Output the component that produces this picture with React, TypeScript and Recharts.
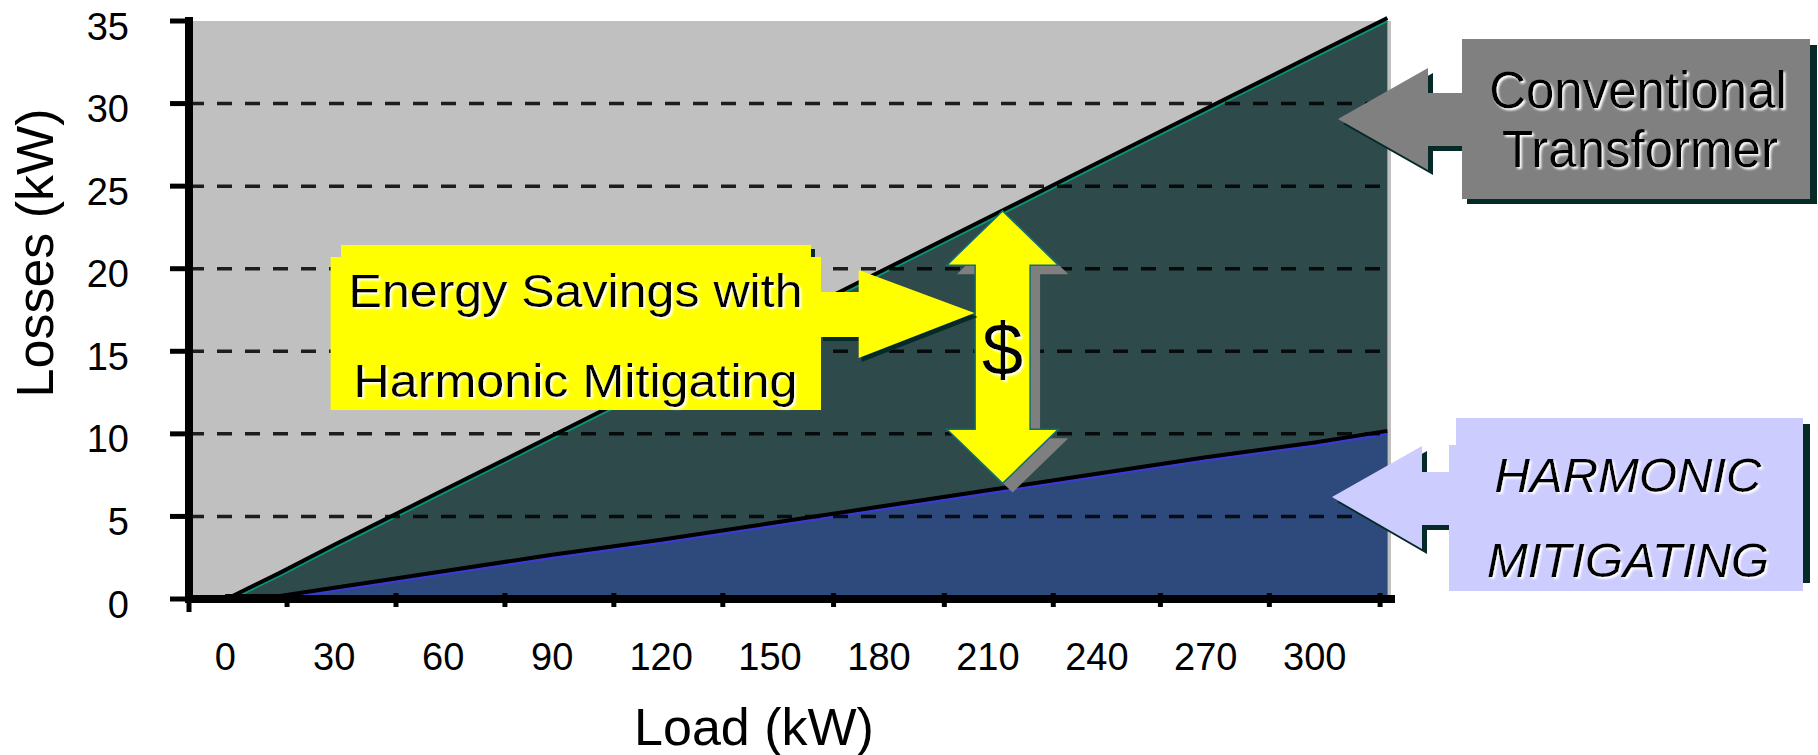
import React from 'react';
import {
  ComposedChart,
  Area,
  Line,
  XAxis,
  YAxis,
  CartesianGrid,
  ReferenceLine,
  ReferenceArea,
} from 'recharts';

const FONT = '"Liberation Sans", Arial, Helvetica, sans-serif';

// ---- data ----
const loadKW = [0, 2, 15, 30, 60, 90, 120, 150, 180, 210, 240, 270, 300, 320];
const conventionalLoss = [0, 0, 1.4, 3.1, 6.4, 9.7, 13.0, 16.3, 19.6, 22.9, 26.2, 29.5, 32.8, 35];
const harmonicLoss = [0, 0, 0, 0.5, 1.5, 2.5, 3.4, 4.4, 5.4, 6.4, 7.4, 8.4, 9.3, 10];

const xLabelTicks = [0, 30, 60, 90, 120, 150, 180, 210, 240, 270, 300];
const xMarkTicks = [-10, 17, 47, 77, 107, 137, 167.5, 198, 228, 257.5, 287.5, 318];
const yTicks = [0, 5, 10, 15, 20, 25, 30, 35];
const gridValues = [5, 10, 15, 20, 25, 30];
const xDomain: [number, number] = [-10, 321];
const yDomain: [number, number] = [0, 35];
const savingsLoad = [198.7, 229.4];
const savingsLoss = [7.0, 23.5];

const data = loadKW.map((load, i) => ({
  load,
  conventional: conventionalLoss[i],
  harmonic: harmonicLoss[i],
}));

const allXTicks = [...xMarkTicks, ...xLabelTicks].sort((a, b) => a - b);

const XTick = (props: any) => {
  const { x, y, payload } = props;
  const v = payload.value;
  if (xMarkTicks.includes(v)) {
    return (
      <line x1={x} x2={x} y1={y - 6} y2={v === -10 ? y + 13 : y + 8} stroke="#000" strokeWidth={5} />
    );
  }
  return (
    <text x={x} y={y + 71} textAnchor="middle" fontSize={38} fontFamily={FONT} fill="#000">
      {v}
    </text>
  );
};

const YTick = (props: any) => {
  const { x, y, payload } = props;
  return (
    <text x={x} y={y + 18.6} textAnchor="end" fontSize={38} fontFamily={FONT} fill="#000">
      {payload.value}
    </text>
  );
};

const DollarArrow = (props: any) => {
  const { x, y, width: W, height: H } = props;
  const cx = x + W / 2;
  const headH = 0.199 * H;
  const half = 0.2464 * W;
  const pts = (dx: number, dy: number) =>
    [
      [cx, y],
      [x + W, y + headH],
      [cx + half, y + headH],
      [cx + half, y + H - headH],
      [x + W, y + H - headH],
      [cx, y + H],
      [x, y + H - headH],
      [cx - half, y + H - headH],
      [cx - half, y + headH],
      [x, y + headH],
    ]
      .map(([px, py]) => `${px + dx},${py + dy}`)
      .join(' ');
  return (
    <g>
      <polygon points={pts(10, 9)} fill="#7f7f7f" />
      <polygon points={pts(0, 0)} fill="#ffff00" stroke="#107070" strokeWidth={1.5} />
      <text
        x={cx}
        y={y + 0.601 * H}
        textAnchor="middle"
        fontSize={74}
        fontFamily={FONT}
        fill="#000"
        filter="url(#whiteGlow)"
      >
        $
      </text>
    </g>
  );
};

const SHADOW = '#062a28';

export default function App() {
  return (
    <div style={{ position: 'absolute', left: 0, top: 0, width: 1818, height: 755, background: '#fff' }}>
      <style>{`.shift-line { transform: translate(0px, -3px); }`}</style>
      <svg width={0} height={0} style={{ position: 'absolute' }}>
        <defs>
          <filter id="whiteGlow" x="-20%" y="-20%" width="140%" height="140%">
            <feDropShadow dx="2" dy="2" stdDeviation="1.2" floodColor="#ffffff" floodOpacity="1" />
          </filter>
        </defs>
      </svg>
      <ComposedChart
        width={1818}
        height={755}
        data={data}
        margin={{ top: 21, right: 427, bottom: 0, left: 0 }}
      >
        <CartesianGrid horizontal={false} vertical={false} fill="#c0c0c0" stroke="none" />
        <Area
          type="linear"
          dataKey="conventional"
          fill="#2f4a4a"
          fillOpacity={1}
          stroke="#009a78"
          strokeWidth={2}
          isAnimationActive={false}
          dot={false}
          activeDot={false}
        />
        <Area
          type="linear"
          dataKey="harmonic"
          fill="#2e4a7d"
          fillOpacity={1}
          stroke="#3a3ad6"
          strokeWidth={2.5}
          isAnimationActive={false}
          dot={false}
          activeDot={false}
        />
        <Line
          type="linear"
          dataKey="conventional"
          stroke="#000"
          strokeWidth={4}
          dot={false}
          activeDot={false}
          className="shift-line"
          isAnimationActive={false}
        />
        <Line
          type="linear"
          dataKey="harmonic"
          stroke="#000"
          strokeWidth={4}
          dot={false}
          activeDot={false}
          className="shift-line"
          isAnimationActive={false}
        />
        {gridValues.map((v) => (
          <ReferenceLine
            key={v}
            y={v}
            stroke="#000"
            strokeOpacity={0.85}
            strokeWidth={3.5}
            strokeDasharray="15 13"
            {...({ zIndex: 450 } as any)}
          />
        ))}
        <ReferenceArea
          x1={savingsLoad[0]}
          x2={savingsLoad[1]}
          y1={savingsLoss[0]}
          y2={savingsLoss[1]}
          ifOverflow="visible"
          shape={DollarArrow}
          {...({ zIndex: 460 } as any)}
        />
        <XAxis
          dataKey="load"
          type="number"
          domain={xDomain}
          allowDataOverflow
          ticks={allXTicks}
          interval={0}
          tick={<XTick />}
          tickLine={false}
          tickSize={0}
          tickMargin={0}
          height={156}
          axisLine={{ stroke: '#000', strokeWidth: 8, strokeLinecap: 'square' }}
        />
        <XAxis
          xAxisId="top"
          orientation="top"
          type="number"
          domain={xDomain}
          allowDataOverflow
          height={0}
          tick={false}
          tickLine={false}
          axisLine={{ stroke: '#000', strokeWidth: 8, strokeLinecap: 'square' }}
        />
        <YAxis
          type="number"
          domain={yDomain}
          ticks={yTicks}
          interval={0}
          width={189}
          tick={<YTick />}
          tickSize={19}
          tickMargin={41}
          tickLine={{ stroke: '#000', strokeWidth: 5 }}
          axisLine={{ stroke: '#000', strokeWidth: 8, strokeLinecap: 'square' }}
        />
        <YAxis
          yAxisId="right"
          orientation="right"
          type="number"
          domain={yDomain}
          width={0}
          tick={false}
          tickLine={false}
          axisLine={{ stroke: '#000', strokeWidth: 8, strokeLinecap: 'square' }}
        />
      </ComposedChart>

      <svg
        width={1818}
        height={755}
        style={{ position: 'absolute', left: 0, top: 0, pointerEvents: 'none' }}
      >
        {/* axis titles */}
        <text
          transform="translate(53,253) rotate(-90)"
          textAnchor="middle"
          fontSize={52}
          fontFamily={FONT}
          fill="#000"
        >
          Losses (kW)
        </text>
        <text x={754} y={745} textAnchor="middle" fontSize={52} fontFamily={FONT} fill="#000">
          Load (kW)
        </text>

        {/* Energy savings callout */}
        <polygon
          points="823,296 861.7,296 861.7,274 977.5,317 861.7,362 861.7,341 823,341"
          fill={SHADOW}
        />
        <rect x={345} y={249} width={470} height={14} fill={SHADOW} />
        <rect x={341} y={245} width={470} height={20} fill="#ffff00" />
        <rect x={330.6} y={257} width={490.4} height={153} fill="#ffff00" />
        <polygon
          points="819,292 858.7,292 858.7,270 974.5,313 858.7,358 858.7,337 819,337"
          fill="#ffff00"
        />
        <text
          x={575.5}
          y={307}
          textAnchor="middle"
          fontSize={47}
          fontFamily={FONT}
          fill="#000"
          textLength={454}
          lengthAdjust="spacingAndGlyphs"
          filter="url(#whiteGlow)"
        >
          Energy Savings with
        </text>
        <text
          x={575.5}
          y={397}
          textAnchor="middle"
          fontSize={47}
          fontFamily={FONT}
          fill="#000"
          textLength={444}
          lengthAdjust="spacingAndGlyphs"
          filter="url(#whiteGlow)"
        >
          Harmonic Mitigating
        </text>

        {/* Conventional transformer callout */}
        <rect x={1467} y={45} width={350} height={159} fill={SHADOW} />
        <polygon
          points="1343,124 1433,73 1433,98 1467,98 1467,151 1433,151 1433,175"
          fill={SHADOW}
        />
        <polygon
          points="1338,119 1428,68 1428,93 1462,93 1462,146 1428,146 1428,170"
          fill="#808080"
        />
        <rect x={1462} y={39} width={348} height={160} fill="#808080" />
        <text
          x={1638}
          y={108}
          textAnchor="middle"
          fontSize={51}
          fontFamily={FONT}
          fill="#000"
          filter="url(#whiteGlow)"
        >
          Conventional
        </text>
        <text
          x={1640}
          y={167}
          textAnchor="middle"
          fontSize={51}
          fontFamily={FONT}
          fill="#000"
          filter="url(#whiteGlow)"
        >
          Transformer
        </text>

        {/* Harmonic mitigating callout */}
        <rect x={1462} y={424} width={348} height={159} fill={SHADOW} />
        <polygon
          points="1337,502 1427,451 1427,477 1454,477 1454,530 1427,530 1427,554"
          fill={SHADOW}
        />
        <polygon
          points="1332,497 1422,446 1422,472 1449,472 1449,525 1422,525 1422,549"
          fill="#ccccff"
        />
        <rect x={1456} y={418} width={347} height={30} fill="#ccccff" />
        <rect x={1449} y={445} width={354} height={146} fill="#ccccff" />
        <text
          x={1628}
          y={492}
          textAnchor="middle"
          fontSize={49}
          fontStyle="italic"
          fontFamily={FONT}
          fill="#000"
          filter="url(#whiteGlow)"
        >
          HARMONIC
        </text>
        <text
          x={1628}
          y={577}
          textAnchor="middle"
          fontSize={49}
          fontStyle="italic"
          fontFamily={FONT}
          fill="#000"
          filter="url(#whiteGlow)"
        >
          MITIGATING
        </text>
      </svg>
    </div>
  );
}
